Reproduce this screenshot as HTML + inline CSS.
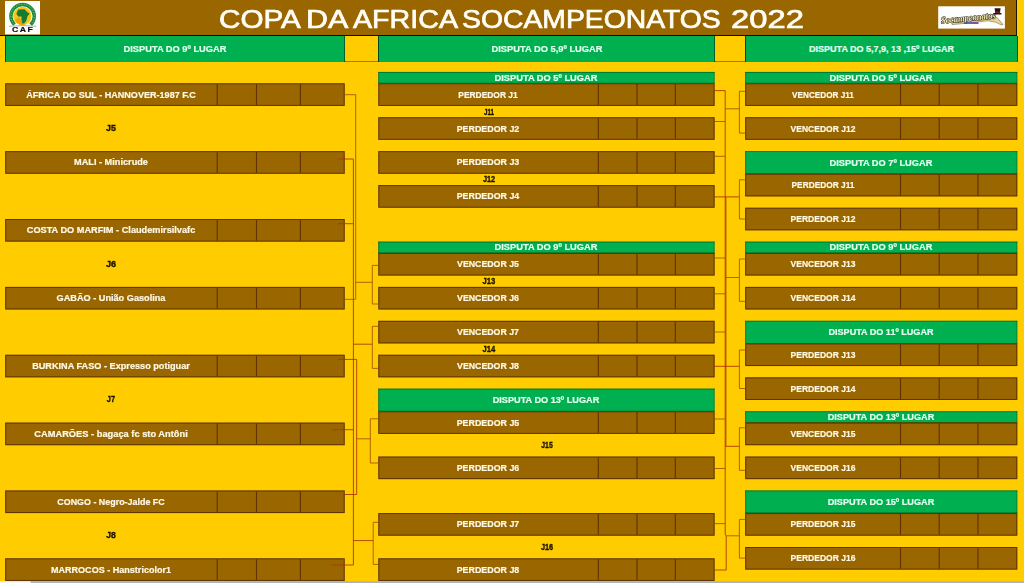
<!DOCTYPE html>
<html><head><meta charset="utf-8"><title>Copa da Africa</title>
<style>
html,body{margin:0;padding:0;}
body{width:1024px;height:583px;overflow:hidden;background:#FFCC00;position:relative;font-family:"Liberation Sans",sans-serif;}
#hdr{position:absolute;left:0;top:0;width:1017.1px;height:35.8px;background:#996600;border-right:1px solid #1c1400;border-bottom:1.2px solid #0c0c00;box-sizing:border-box}
.ti{position:absolute;top:0;height:35px;line-height:38.6px;color:#fffdf5;font-size:25.2px;white-space:pre;transform-origin:0 50%;-webkit-text-stroke:0.7px #fffdf5}
.tg{position:absolute;top:35.8px;height:26.3px;background:#00B050;box-sizing:border-box;border-left:1px solid rgba(0,0,0,.6);border-right:1px solid rgba(0,0,0,.45)}
.gap{position:absolute;top:35.8px;height:26.6px;box-sizing:border-box;border-bottom:1px solid rgba(120,50,0,.55)}
.t{position:absolute;background:#996600;box-sizing:border-box;border:1px solid rgba(50,15,0,.42);}
.t i{position:absolute;top:0;bottom:0;width:1px;background:rgba(50,15,0,.55)}
.g{position:absolute;background:#00B050;box-sizing:border-box;border-top:1px solid rgba(0,40,0,.5);border-bottom:1px solid rgba(0,40,0,.6)}
.x{position:absolute;width:300px;height:12px;line-height:12px;text-align:center;font-weight:bold;font-size:9px;white-space:pre;transform-origin:50% 50%}
.w{color:#fff9e6;-webkit-text-stroke:0.2px #fff9e6}
.gw{color:#e4fff0;-webkit-text-stroke:0.2px #e4fff0}
.k{color:#1a1200;-webkit-text-stroke:0.35px #1a1200}
.cn{position:absolute;left:0;top:0}
#bot{position:absolute;left:0;top:581.5px;width:1024px;height:2px;background:#a8a8a8}
#bot b{position:absolute;left:0;top:0;width:30px;height:2px;background:#f4f4f4}
</style></head><body>
<div id="hdr"></div>
<svg style="position:absolute;left:0;top:0" width="1024" height="36" viewBox="0 0 1024 36">
<defs><filter id="bl" x="-10%" y="-10%" width="120%" height="120%"><feGaussianBlur stdDeviation="0.35"/></filter></defs>
<g filter="url(#bl)">
<rect x="5" y="1" width="35" height="33.4" fill="#fdfdfb"/>
<path d="M13.2,25.8 A13.4,13.4 0 1 1 32,25.8 L29.4,23.6 A10,10 0 1 0 15.8,23.6 Z" fill="#1f8a3c"/>
<path d="M14.3,24.2 A11.7,11.7 0 1 1 30.9,24.2" fill="none" stroke="#9fd6a0" stroke-width="1" stroke-dasharray="0.9 1.7"/>
<circle cx="22.4" cy="16" r="9.2" fill="#f6c514"/>
<path d="M15,20 A9.1,9.1 0 0 0 24,25 L19,17 Z" fill="#f0a010"/>
<path d="M18.2,9.6 L24.5,9.2 L27.6,12.6 L29.6,13.6 L27.4,16.6 L26.4,20.4 L24.2,23.6 L22.4,23.6 L21.4,19.2 L21.6,16.6 L18.2,16.4 L16.4,13.8 Z" fill="#147a33"/>
<path d="M9,26.3 Q22.6,24.8 36.4,26.3" stroke="#555560" stroke-width="0.45" fill="none"/>
<text transform="translate(23.2 32) scale(1.32 1)" font-family="Liberation Sans, sans-serif" font-weight="bold" font-size="6.6" letter-spacing="1.1" text-anchor="middle" fill="#101018" stroke="#101018" stroke-width="0.15">CAF</text>
</g>
<g filter="url(#bl)">
<rect x="938.2" y="6.3" width="66.7" height="22.3" fill="#fefefe"/>
<path d="M952,22.6 Q975,21.4 990,17.6 L996,16.6 L1003,24.4 L1001.6,25 Q996,21.4 988,20.8 Q970,23 952,24.6 Z" fill="#e6d68e" stroke="#5a5030" stroke-width="0.5"/>
<text x="941.2" y="23.6" transform="rotate(-5.5 941.2 23.6)" font-family="Liberation Serif, serif" font-style="italic" font-weight="bold" font-size="9.5" textLength="55" lengthAdjust="spacingAndGlyphs" fill="#efe6b0" stroke="#1a1408" stroke-width="1.0" paint-order="stroke">Socampeonatos</text>
<rect x="964.8" y="22.3" width="13.6" height="1.5" fill="#3a4cc4"/>
<rect x="972.5" y="22.5" width="5.8" height="1.1" fill="#c43448"/>
<path d="M994.6,8.2 L1000.6,8.2 L1000,12.8 L1001.6,13.2 L1001.4,14.6 L993.2,14.6 L993.2,13.2 L995.2,12.8 Z" fill="#2a1018"/>
<rect x="995.2" y="11.6" width="4.8" height="1.2" fill="#7a3020"/>
</g>
</svg>

<span class="ti" style="left:219.12px;transform:scaleX(1.176)">COPA</span>
<span class="ti" style="left:306.07px;transform:scaleX(1.208)">DA</span>
<span class="ti" style="left:352.78px;transform:scaleX(1.137)">AFRICA</span>
<span class="ti" style="left:462.20px;transform:scaleX(1.125)">SOCAMPEONATOS</span>
<span class="ti" style="left:730.92px;transform:scaleX(1.300)">2022</span>
<div class="tg" style="left:4.6px;width:340.1px"></div>
<div class="tg" style="left:378.3px;width:336.3px"></div>
<div class="tg" style="left:745.2px;width:272.4px"></div>
<div class="gap" style="left:344.7px;width:33.6px"></div>
<div class="gap" style="left:714.6px;width:30.6px"></div>
<svg class="cn" width="1024" height="583" viewBox="0 0 1024 583"><rect x="5.20" y="83.30" width="339.50" height="22.62" fill="#996600"/><rect x="5.70" y="83.80" width="338.50" height="21.62" fill="none" stroke="rgb(50,15,0)" stroke-opacity=".58"/><line x1="217.20" y1="84.30" x2="217.20" y2="104.92" stroke="rgb(60,15,0)" stroke-opacity=".6" stroke-width="1.1"/><line x1="256.50" y1="84.30" x2="256.50" y2="104.92" stroke="rgb(60,15,0)" stroke-opacity=".6" stroke-width="1.1"/><line x1="300.40" y1="84.30" x2="300.40" y2="104.92" stroke="rgb(60,15,0)" stroke-opacity=".6" stroke-width="1.1"/>
<rect x="5.20" y="151.16" width="339.50" height="22.62" fill="#996600"/><rect x="5.70" y="151.66" width="338.50" height="21.62" fill="none" stroke="rgb(50,15,0)" stroke-opacity=".58"/><line x1="217.20" y1="152.16" x2="217.20" y2="172.78" stroke="rgb(60,15,0)" stroke-opacity=".6" stroke-width="1.1"/><line x1="256.50" y1="152.16" x2="256.50" y2="172.78" stroke="rgb(60,15,0)" stroke-opacity=".6" stroke-width="1.1"/><line x1="300.40" y1="152.16" x2="300.40" y2="172.78" stroke="rgb(60,15,0)" stroke-opacity=".6" stroke-width="1.1"/>
<rect x="5.20" y="219.02" width="339.50" height="22.62" fill="#996600"/><rect x="5.70" y="219.52" width="338.50" height="21.62" fill="none" stroke="rgb(50,15,0)" stroke-opacity=".58"/><line x1="217.20" y1="220.02" x2="217.20" y2="240.64" stroke="rgb(60,15,0)" stroke-opacity=".6" stroke-width="1.1"/><line x1="256.50" y1="220.02" x2="256.50" y2="240.64" stroke="rgb(60,15,0)" stroke-opacity=".6" stroke-width="1.1"/><line x1="300.40" y1="220.02" x2="300.40" y2="240.64" stroke="rgb(60,15,0)" stroke-opacity=".6" stroke-width="1.1"/>
<rect x="5.20" y="286.88" width="339.50" height="22.62" fill="#996600"/><rect x="5.70" y="287.38" width="338.50" height="21.62" fill="none" stroke="rgb(50,15,0)" stroke-opacity=".58"/><line x1="217.20" y1="287.88" x2="217.20" y2="308.50" stroke="rgb(60,15,0)" stroke-opacity=".6" stroke-width="1.1"/><line x1="256.50" y1="287.88" x2="256.50" y2="308.50" stroke="rgb(60,15,0)" stroke-opacity=".6" stroke-width="1.1"/><line x1="300.40" y1="287.88" x2="300.40" y2="308.50" stroke="rgb(60,15,0)" stroke-opacity=".6" stroke-width="1.1"/>
<rect x="5.20" y="354.74" width="339.50" height="22.62" fill="#996600"/><rect x="5.70" y="355.24" width="338.50" height="21.62" fill="none" stroke="rgb(50,15,0)" stroke-opacity=".58"/><line x1="217.20" y1="355.74" x2="217.20" y2="376.36" stroke="rgb(60,15,0)" stroke-opacity=".6" stroke-width="1.1"/><line x1="256.50" y1="355.74" x2="256.50" y2="376.36" stroke="rgb(60,15,0)" stroke-opacity=".6" stroke-width="1.1"/><line x1="300.40" y1="355.74" x2="300.40" y2="376.36" stroke="rgb(60,15,0)" stroke-opacity=".6" stroke-width="1.1"/>
<rect x="5.20" y="422.60" width="339.50" height="22.62" fill="#996600"/><rect x="5.70" y="423.10" width="338.50" height="21.62" fill="none" stroke="rgb(50,15,0)" stroke-opacity=".58"/><line x1="217.20" y1="423.60" x2="217.20" y2="444.22" stroke="rgb(60,15,0)" stroke-opacity=".6" stroke-width="1.1"/><line x1="256.50" y1="423.60" x2="256.50" y2="444.22" stroke="rgb(60,15,0)" stroke-opacity=".6" stroke-width="1.1"/><line x1="300.40" y1="423.60" x2="300.40" y2="444.22" stroke="rgb(60,15,0)" stroke-opacity=".6" stroke-width="1.1"/>
<rect x="5.20" y="490.46" width="339.50" height="22.62" fill="#996600"/><rect x="5.70" y="490.96" width="338.50" height="21.62" fill="none" stroke="rgb(50,15,0)" stroke-opacity=".58"/><line x1="217.20" y1="491.46" x2="217.20" y2="512.08" stroke="rgb(60,15,0)" stroke-opacity=".6" stroke-width="1.1"/><line x1="256.50" y1="491.46" x2="256.50" y2="512.08" stroke="rgb(60,15,0)" stroke-opacity=".6" stroke-width="1.1"/><line x1="300.40" y1="491.46" x2="300.40" y2="512.08" stroke="rgb(60,15,0)" stroke-opacity=".6" stroke-width="1.1"/>
<rect x="5.20" y="558.32" width="339.50" height="22.62" fill="#996600"/><rect x="5.70" y="558.82" width="338.50" height="21.62" fill="none" stroke="rgb(50,15,0)" stroke-opacity=".58"/><line x1="217.20" y1="559.32" x2="217.20" y2="579.94" stroke="rgb(60,15,0)" stroke-opacity=".6" stroke-width="1.1"/><line x1="256.50" y1="559.32" x2="256.50" y2="579.94" stroke="rgb(60,15,0)" stroke-opacity=".6" stroke-width="1.1"/><line x1="300.40" y1="559.32" x2="300.40" y2="579.94" stroke="rgb(60,15,0)" stroke-opacity=".6" stroke-width="1.1"/>
<rect x="378.30" y="71.99" width="336.30" height="11.31" fill="#00B050"/><line x1="378.30" y1="72.39" x2="714.60" y2="72.39" stroke="rgb(0,50,0)" stroke-opacity=".5" stroke-width=".9"/><line x1="378.30" y1="83.30" x2="714.60" y2="83.30" stroke="rgb(0,50,0)" stroke-opacity=".65" stroke-width="1.1"/><line x1="378.70" y1="71.99" x2="378.70" y2="83.30" stroke="rgb(0,40,0)" stroke-opacity=".45" stroke-width=".9"/><line x1="714.20" y1="71.99" x2="714.20" y2="83.30" stroke="rgb(0,40,0)" stroke-opacity=".35" stroke-width=".9"/>
<rect x="378.30" y="83.30" width="336.30" height="22.62" fill="#996600"/><rect x="378.80" y="83.80" width="335.30" height="21.62" fill="none" stroke="rgb(50,15,0)" stroke-opacity=".58"/><line x1="598.30" y1="84.30" x2="598.30" y2="104.92" stroke="rgb(60,15,0)" stroke-opacity=".6" stroke-width="1.1"/><line x1="637.00" y1="84.30" x2="637.00" y2="104.92" stroke="rgb(60,15,0)" stroke-opacity=".6" stroke-width="1.1"/><line x1="675.30" y1="84.30" x2="675.30" y2="104.92" stroke="rgb(60,15,0)" stroke-opacity=".6" stroke-width="1.1"/>
<rect x="378.30" y="117.23" width="336.30" height="22.62" fill="#996600"/><rect x="378.80" y="117.73" width="335.30" height="21.62" fill="none" stroke="rgb(50,15,0)" stroke-opacity=".58"/><line x1="598.30" y1="118.23" x2="598.30" y2="138.85" stroke="rgb(60,15,0)" stroke-opacity=".6" stroke-width="1.1"/><line x1="637.00" y1="118.23" x2="637.00" y2="138.85" stroke="rgb(60,15,0)" stroke-opacity=".6" stroke-width="1.1"/><line x1="675.30" y1="118.23" x2="675.30" y2="138.85" stroke="rgb(60,15,0)" stroke-opacity=".6" stroke-width="1.1"/>
<rect x="378.30" y="151.16" width="336.30" height="22.62" fill="#996600"/><rect x="378.80" y="151.66" width="335.30" height="21.62" fill="none" stroke="rgb(50,15,0)" stroke-opacity=".58"/><line x1="598.30" y1="152.16" x2="598.30" y2="172.78" stroke="rgb(60,15,0)" stroke-opacity=".6" stroke-width="1.1"/><line x1="637.00" y1="152.16" x2="637.00" y2="172.78" stroke="rgb(60,15,0)" stroke-opacity=".6" stroke-width="1.1"/><line x1="675.30" y1="152.16" x2="675.30" y2="172.78" stroke="rgb(60,15,0)" stroke-opacity=".6" stroke-width="1.1"/>
<rect x="378.30" y="185.09" width="336.30" height="22.62" fill="#996600"/><rect x="378.80" y="185.59" width="335.30" height="21.62" fill="none" stroke="rgb(50,15,0)" stroke-opacity=".58"/><line x1="598.30" y1="186.09" x2="598.30" y2="206.71" stroke="rgb(60,15,0)" stroke-opacity=".6" stroke-width="1.1"/><line x1="637.00" y1="186.09" x2="637.00" y2="206.71" stroke="rgb(60,15,0)" stroke-opacity=".6" stroke-width="1.1"/><line x1="675.30" y1="186.09" x2="675.30" y2="206.71" stroke="rgb(60,15,0)" stroke-opacity=".6" stroke-width="1.1"/>
<rect x="378.30" y="241.64" width="336.30" height="11.31" fill="#00B050"/><line x1="378.30" y1="242.04" x2="714.60" y2="242.04" stroke="rgb(0,50,0)" stroke-opacity=".5" stroke-width=".9"/><line x1="378.30" y1="252.95" x2="714.60" y2="252.95" stroke="rgb(0,50,0)" stroke-opacity=".65" stroke-width="1.1"/><line x1="378.70" y1="241.64" x2="378.70" y2="252.95" stroke="rgb(0,40,0)" stroke-opacity=".45" stroke-width=".9"/><line x1="714.20" y1="241.64" x2="714.20" y2="252.95" stroke="rgb(0,40,0)" stroke-opacity=".35" stroke-width=".9"/>
<rect x="378.30" y="252.95" width="336.30" height="22.62" fill="#996600"/><rect x="378.80" y="253.45" width="335.30" height="21.62" fill="none" stroke="rgb(50,15,0)" stroke-opacity=".58"/><line x1="598.30" y1="253.95" x2="598.30" y2="274.57" stroke="rgb(60,15,0)" stroke-opacity=".6" stroke-width="1.1"/><line x1="637.00" y1="253.95" x2="637.00" y2="274.57" stroke="rgb(60,15,0)" stroke-opacity=".6" stroke-width="1.1"/><line x1="675.30" y1="253.95" x2="675.30" y2="274.57" stroke="rgb(60,15,0)" stroke-opacity=".6" stroke-width="1.1"/>
<rect x="378.30" y="286.88" width="336.30" height="22.62" fill="#996600"/><rect x="378.80" y="287.38" width="335.30" height="21.62" fill="none" stroke="rgb(50,15,0)" stroke-opacity=".58"/><line x1="598.30" y1="287.88" x2="598.30" y2="308.50" stroke="rgb(60,15,0)" stroke-opacity=".6" stroke-width="1.1"/><line x1="637.00" y1="287.88" x2="637.00" y2="308.50" stroke="rgb(60,15,0)" stroke-opacity=".6" stroke-width="1.1"/><line x1="675.30" y1="287.88" x2="675.30" y2="308.50" stroke="rgb(60,15,0)" stroke-opacity=".6" stroke-width="1.1"/>
<rect x="378.30" y="320.81" width="336.30" height="22.62" fill="#996600"/><rect x="378.80" y="321.31" width="335.30" height="21.62" fill="none" stroke="rgb(50,15,0)" stroke-opacity=".58"/><line x1="598.30" y1="321.81" x2="598.30" y2="342.43" stroke="rgb(60,15,0)" stroke-opacity=".6" stroke-width="1.1"/><line x1="637.00" y1="321.81" x2="637.00" y2="342.43" stroke="rgb(60,15,0)" stroke-opacity=".6" stroke-width="1.1"/><line x1="675.30" y1="321.81" x2="675.30" y2="342.43" stroke="rgb(60,15,0)" stroke-opacity=".6" stroke-width="1.1"/>
<rect x="378.30" y="354.74" width="336.30" height="22.62" fill="#996600"/><rect x="378.80" y="355.24" width="335.30" height="21.62" fill="none" stroke="rgb(50,15,0)" stroke-opacity=".58"/><line x1="598.30" y1="355.74" x2="598.30" y2="376.36" stroke="rgb(60,15,0)" stroke-opacity=".6" stroke-width="1.1"/><line x1="637.00" y1="355.74" x2="637.00" y2="376.36" stroke="rgb(60,15,0)" stroke-opacity=".6" stroke-width="1.1"/><line x1="675.30" y1="355.74" x2="675.30" y2="376.36" stroke="rgb(60,15,0)" stroke-opacity=".6" stroke-width="1.1"/>
<rect x="378.30" y="388.67" width="336.30" height="22.62" fill="#00B050"/><line x1="378.30" y1="389.07" x2="714.60" y2="389.07" stroke="rgb(0,50,0)" stroke-opacity=".5" stroke-width=".9"/><line x1="378.30" y1="411.29" x2="714.60" y2="411.29" stroke="rgb(0,50,0)" stroke-opacity=".65" stroke-width="1.1"/><line x1="378.70" y1="388.67" x2="378.70" y2="411.29" stroke="rgb(0,40,0)" stroke-opacity=".45" stroke-width=".9"/><line x1="714.20" y1="388.67" x2="714.20" y2="411.29" stroke="rgb(0,40,0)" stroke-opacity=".35" stroke-width=".9"/>
<rect x="378.30" y="411.29" width="336.30" height="22.62" fill="#996600"/><rect x="378.80" y="411.79" width="335.30" height="21.62" fill="none" stroke="rgb(50,15,0)" stroke-opacity=".58"/><line x1="598.30" y1="412.29" x2="598.30" y2="432.91" stroke="rgb(60,15,0)" stroke-opacity=".6" stroke-width="1.1"/><line x1="637.00" y1="412.29" x2="637.00" y2="432.91" stroke="rgb(60,15,0)" stroke-opacity=".6" stroke-width="1.1"/><line x1="675.30" y1="412.29" x2="675.30" y2="432.91" stroke="rgb(60,15,0)" stroke-opacity=".6" stroke-width="1.1"/>
<rect x="378.30" y="456.53" width="336.30" height="22.62" fill="#996600"/><rect x="378.80" y="457.03" width="335.30" height="21.62" fill="none" stroke="rgb(50,15,0)" stroke-opacity=".58"/><line x1="598.30" y1="457.53" x2="598.30" y2="478.15" stroke="rgb(60,15,0)" stroke-opacity=".6" stroke-width="1.1"/><line x1="637.00" y1="457.53" x2="637.00" y2="478.15" stroke="rgb(60,15,0)" stroke-opacity=".6" stroke-width="1.1"/><line x1="675.30" y1="457.53" x2="675.30" y2="478.15" stroke="rgb(60,15,0)" stroke-opacity=".6" stroke-width="1.1"/>
<rect x="378.30" y="513.08" width="336.30" height="22.62" fill="#996600"/><rect x="378.80" y="513.58" width="335.30" height="21.62" fill="none" stroke="rgb(50,15,0)" stroke-opacity=".58"/><line x1="598.30" y1="514.08" x2="598.30" y2="534.70" stroke="rgb(60,15,0)" stroke-opacity=".6" stroke-width="1.1"/><line x1="637.00" y1="514.08" x2="637.00" y2="534.70" stroke="rgb(60,15,0)" stroke-opacity=".6" stroke-width="1.1"/><line x1="675.30" y1="514.08" x2="675.30" y2="534.70" stroke="rgb(60,15,0)" stroke-opacity=".6" stroke-width="1.1"/>
<rect x="378.30" y="558.32" width="336.30" height="22.62" fill="#996600"/><rect x="378.80" y="558.82" width="335.30" height="21.62" fill="none" stroke="rgb(50,15,0)" stroke-opacity=".58"/><line x1="598.30" y1="559.32" x2="598.30" y2="579.94" stroke="rgb(60,15,0)" stroke-opacity=".6" stroke-width="1.1"/><line x1="637.00" y1="559.32" x2="637.00" y2="579.94" stroke="rgb(60,15,0)" stroke-opacity=".6" stroke-width="1.1"/><line x1="675.30" y1="559.32" x2="675.30" y2="579.94" stroke="rgb(60,15,0)" stroke-opacity=".6" stroke-width="1.1"/>
<rect x="745.20" y="71.99" width="272.10" height="11.31" fill="#00B050"/><line x1="745.20" y1="72.39" x2="1017.30" y2="72.39" stroke="rgb(0,50,0)" stroke-opacity=".5" stroke-width=".9"/><line x1="745.20" y1="83.30" x2="1017.30" y2="83.30" stroke="rgb(0,50,0)" stroke-opacity=".65" stroke-width="1.1"/><line x1="745.60" y1="71.99" x2="745.60" y2="83.30" stroke="rgb(0,40,0)" stroke-opacity=".45" stroke-width=".9"/><line x1="1016.90" y1="71.99" x2="1016.90" y2="83.30" stroke="rgb(0,40,0)" stroke-opacity=".35" stroke-width=".9"/>
<rect x="745.20" y="83.30" width="272.10" height="22.62" fill="#996600"/><rect x="745.70" y="83.80" width="271.10" height="21.62" fill="none" stroke="rgb(50,15,0)" stroke-opacity=".58"/><line x1="900.50" y1="84.30" x2="900.50" y2="104.92" stroke="rgb(60,15,0)" stroke-opacity=".6" stroke-width="1.1"/><line x1="939.20" y1="84.30" x2="939.20" y2="104.92" stroke="rgb(60,15,0)" stroke-opacity=".6" stroke-width="1.1"/><line x1="978.00" y1="84.30" x2="978.00" y2="104.92" stroke="rgb(60,15,0)" stroke-opacity=".6" stroke-width="1.1"/>
<rect x="745.20" y="117.23" width="272.10" height="22.62" fill="#996600"/><rect x="745.70" y="117.73" width="271.10" height="21.62" fill="none" stroke="rgb(50,15,0)" stroke-opacity=".58"/><line x1="900.50" y1="118.23" x2="900.50" y2="138.85" stroke="rgb(60,15,0)" stroke-opacity=".6" stroke-width="1.1"/><line x1="939.20" y1="118.23" x2="939.20" y2="138.85" stroke="rgb(60,15,0)" stroke-opacity=".6" stroke-width="1.1"/><line x1="978.00" y1="118.23" x2="978.00" y2="138.85" stroke="rgb(60,15,0)" stroke-opacity=".6" stroke-width="1.1"/>
<rect x="745.20" y="151.16" width="272.10" height="22.62" fill="#00B050"/><line x1="745.20" y1="151.56" x2="1017.30" y2="151.56" stroke="rgb(0,50,0)" stroke-opacity=".5" stroke-width=".9"/><line x1="745.20" y1="173.78" x2="1017.30" y2="173.78" stroke="rgb(0,50,0)" stroke-opacity=".65" stroke-width="1.1"/><line x1="745.60" y1="151.16" x2="745.60" y2="173.78" stroke="rgb(0,40,0)" stroke-opacity=".45" stroke-width=".9"/><line x1="1016.90" y1="151.16" x2="1016.90" y2="173.78" stroke="rgb(0,40,0)" stroke-opacity=".35" stroke-width=".9"/>
<rect x="745.20" y="173.78" width="272.10" height="22.62" fill="#996600"/><rect x="745.70" y="174.28" width="271.10" height="21.62" fill="none" stroke="rgb(50,15,0)" stroke-opacity=".58"/><line x1="900.50" y1="174.78" x2="900.50" y2="195.40" stroke="rgb(60,15,0)" stroke-opacity=".6" stroke-width="1.1"/><line x1="939.20" y1="174.78" x2="939.20" y2="195.40" stroke="rgb(60,15,0)" stroke-opacity=".6" stroke-width="1.1"/><line x1="978.00" y1="174.78" x2="978.00" y2="195.40" stroke="rgb(60,15,0)" stroke-opacity=".6" stroke-width="1.1"/>
<rect x="745.20" y="207.71" width="272.10" height="22.62" fill="#996600"/><rect x="745.70" y="208.21" width="271.10" height="21.62" fill="none" stroke="rgb(50,15,0)" stroke-opacity=".58"/><line x1="900.50" y1="208.71" x2="900.50" y2="229.33" stroke="rgb(60,15,0)" stroke-opacity=".6" stroke-width="1.1"/><line x1="939.20" y1="208.71" x2="939.20" y2="229.33" stroke="rgb(60,15,0)" stroke-opacity=".6" stroke-width="1.1"/><line x1="978.00" y1="208.71" x2="978.00" y2="229.33" stroke="rgb(60,15,0)" stroke-opacity=".6" stroke-width="1.1"/>
<rect x="745.20" y="241.64" width="272.10" height="11.31" fill="#00B050"/><line x1="745.20" y1="242.04" x2="1017.30" y2="242.04" stroke="rgb(0,50,0)" stroke-opacity=".5" stroke-width=".9"/><line x1="745.20" y1="252.95" x2="1017.30" y2="252.95" stroke="rgb(0,50,0)" stroke-opacity=".65" stroke-width="1.1"/><line x1="745.60" y1="241.64" x2="745.60" y2="252.95" stroke="rgb(0,40,0)" stroke-opacity=".45" stroke-width=".9"/><line x1="1016.90" y1="241.64" x2="1016.90" y2="252.95" stroke="rgb(0,40,0)" stroke-opacity=".35" stroke-width=".9"/>
<rect x="745.20" y="252.95" width="272.10" height="22.62" fill="#996600"/><rect x="745.70" y="253.45" width="271.10" height="21.62" fill="none" stroke="rgb(50,15,0)" stroke-opacity=".58"/><line x1="900.50" y1="253.95" x2="900.50" y2="274.57" stroke="rgb(60,15,0)" stroke-opacity=".6" stroke-width="1.1"/><line x1="939.20" y1="253.95" x2="939.20" y2="274.57" stroke="rgb(60,15,0)" stroke-opacity=".6" stroke-width="1.1"/><line x1="978.00" y1="253.95" x2="978.00" y2="274.57" stroke="rgb(60,15,0)" stroke-opacity=".6" stroke-width="1.1"/>
<rect x="745.20" y="286.88" width="272.10" height="22.62" fill="#996600"/><rect x="745.70" y="287.38" width="271.10" height="21.62" fill="none" stroke="rgb(50,15,0)" stroke-opacity=".58"/><line x1="900.50" y1="287.88" x2="900.50" y2="308.50" stroke="rgb(60,15,0)" stroke-opacity=".6" stroke-width="1.1"/><line x1="939.20" y1="287.88" x2="939.20" y2="308.50" stroke="rgb(60,15,0)" stroke-opacity=".6" stroke-width="1.1"/><line x1="978.00" y1="287.88" x2="978.00" y2="308.50" stroke="rgb(60,15,0)" stroke-opacity=".6" stroke-width="1.1"/>
<rect x="745.20" y="320.81" width="272.10" height="22.62" fill="#00B050"/><line x1="745.20" y1="321.21" x2="1017.30" y2="321.21" stroke="rgb(0,50,0)" stroke-opacity=".5" stroke-width=".9"/><line x1="745.20" y1="343.43" x2="1017.30" y2="343.43" stroke="rgb(0,50,0)" stroke-opacity=".65" stroke-width="1.1"/><line x1="745.60" y1="320.81" x2="745.60" y2="343.43" stroke="rgb(0,40,0)" stroke-opacity=".45" stroke-width=".9"/><line x1="1016.90" y1="320.81" x2="1016.90" y2="343.43" stroke="rgb(0,40,0)" stroke-opacity=".35" stroke-width=".9"/>
<rect x="745.20" y="343.43" width="272.10" height="22.62" fill="#996600"/><rect x="745.70" y="343.93" width="271.10" height="21.62" fill="none" stroke="rgb(50,15,0)" stroke-opacity=".58"/><line x1="900.50" y1="344.43" x2="900.50" y2="365.05" stroke="rgb(60,15,0)" stroke-opacity=".6" stroke-width="1.1"/><line x1="939.20" y1="344.43" x2="939.20" y2="365.05" stroke="rgb(60,15,0)" stroke-opacity=".6" stroke-width="1.1"/><line x1="978.00" y1="344.43" x2="978.00" y2="365.05" stroke="rgb(60,15,0)" stroke-opacity=".6" stroke-width="1.1"/>
<rect x="745.20" y="377.36" width="272.10" height="22.62" fill="#996600"/><rect x="745.70" y="377.86" width="271.10" height="21.62" fill="none" stroke="rgb(50,15,0)" stroke-opacity=".58"/><line x1="900.50" y1="378.36" x2="900.50" y2="398.98" stroke="rgb(60,15,0)" stroke-opacity=".6" stroke-width="1.1"/><line x1="939.20" y1="378.36" x2="939.20" y2="398.98" stroke="rgb(60,15,0)" stroke-opacity=".6" stroke-width="1.1"/><line x1="978.00" y1="378.36" x2="978.00" y2="398.98" stroke="rgb(60,15,0)" stroke-opacity=".6" stroke-width="1.1"/>
<rect x="745.20" y="411.29" width="272.10" height="11.31" fill="#00B050"/><line x1="745.20" y1="411.69" x2="1017.30" y2="411.69" stroke="rgb(0,50,0)" stroke-opacity=".5" stroke-width=".9"/><line x1="745.20" y1="422.60" x2="1017.30" y2="422.60" stroke="rgb(0,50,0)" stroke-opacity=".65" stroke-width="1.1"/><line x1="745.60" y1="411.29" x2="745.60" y2="422.60" stroke="rgb(0,40,0)" stroke-opacity=".45" stroke-width=".9"/><line x1="1016.90" y1="411.29" x2="1016.90" y2="422.60" stroke="rgb(0,40,0)" stroke-opacity=".35" stroke-width=".9"/>
<rect x="745.20" y="422.60" width="272.10" height="22.62" fill="#996600"/><rect x="745.70" y="423.10" width="271.10" height="21.62" fill="none" stroke="rgb(50,15,0)" stroke-opacity=".58"/><line x1="900.50" y1="423.60" x2="900.50" y2="444.22" stroke="rgb(60,15,0)" stroke-opacity=".6" stroke-width="1.1"/><line x1="939.20" y1="423.60" x2="939.20" y2="444.22" stroke="rgb(60,15,0)" stroke-opacity=".6" stroke-width="1.1"/><line x1="978.00" y1="423.60" x2="978.00" y2="444.22" stroke="rgb(60,15,0)" stroke-opacity=".6" stroke-width="1.1"/>
<rect x="745.20" y="456.53" width="272.10" height="22.62" fill="#996600"/><rect x="745.70" y="457.03" width="271.10" height="21.62" fill="none" stroke="rgb(50,15,0)" stroke-opacity=".58"/><line x1="900.50" y1="457.53" x2="900.50" y2="478.15" stroke="rgb(60,15,0)" stroke-opacity=".6" stroke-width="1.1"/><line x1="939.20" y1="457.53" x2="939.20" y2="478.15" stroke="rgb(60,15,0)" stroke-opacity=".6" stroke-width="1.1"/><line x1="978.00" y1="457.53" x2="978.00" y2="478.15" stroke="rgb(60,15,0)" stroke-opacity=".6" stroke-width="1.1"/>
<rect x="745.20" y="490.46" width="272.10" height="22.62" fill="#00B050"/><line x1="745.20" y1="490.86" x2="1017.30" y2="490.86" stroke="rgb(0,50,0)" stroke-opacity=".5" stroke-width=".9"/><line x1="745.20" y1="513.08" x2="1017.30" y2="513.08" stroke="rgb(0,50,0)" stroke-opacity=".65" stroke-width="1.1"/><line x1="745.60" y1="490.46" x2="745.60" y2="513.08" stroke="rgb(0,40,0)" stroke-opacity=".45" stroke-width=".9"/><line x1="1016.90" y1="490.46" x2="1016.90" y2="513.08" stroke="rgb(0,40,0)" stroke-opacity=".35" stroke-width=".9"/>
<rect x="745.20" y="513.08" width="272.10" height="22.62" fill="#996600"/><rect x="745.70" y="513.58" width="271.10" height="21.62" fill="none" stroke="rgb(50,15,0)" stroke-opacity=".58"/><line x1="900.50" y1="514.08" x2="900.50" y2="534.70" stroke="rgb(60,15,0)" stroke-opacity=".6" stroke-width="1.1"/><line x1="939.20" y1="514.08" x2="939.20" y2="534.70" stroke="rgb(60,15,0)" stroke-opacity=".6" stroke-width="1.1"/><line x1="978.00" y1="514.08" x2="978.00" y2="534.70" stroke="rgb(60,15,0)" stroke-opacity=".6" stroke-width="1.1"/>
<rect x="745.20" y="547.01" width="272.10" height="22.62" fill="#996600"/><rect x="745.70" y="547.51" width="271.10" height="21.62" fill="none" stroke="rgb(50,15,0)" stroke-opacity=".58"/><line x1="900.50" y1="548.01" x2="900.50" y2="568.63" stroke="rgb(60,15,0)" stroke-opacity=".6" stroke-width="1.1"/><line x1="939.20" y1="548.01" x2="939.20" y2="568.63" stroke="rgb(60,15,0)" stroke-opacity=".6" stroke-width="1.1"/><line x1="978.00" y1="548.01" x2="978.00" y2="568.63" stroke="rgb(60,15,0)" stroke-opacity=".6" stroke-width="1.1"/></svg>
<span class="x w" style="left:-38.80px;top:88.61px;transform:scaleX(1.007)">ÁFRICA DO SUL - HANNOVER-1987 F.C</span>
<span class="x w" style="left:-38.80px;top:156.47px;transform:scaleX(1.020)">MALI - Minicrude</span>
<span class="x w" style="left:-38.80px;top:224.33px;transform:scaleX(1.021)">COSTA DO MARFIM - Claudemirsilvafc</span>
<span class="x w" style="left:-38.80px;top:292.19px;transform:scaleX(1.018)">GABÃO - União Gasolina</span>
<span class="x w" style="left:-38.80px;top:360.05px;transform:scaleX(1.016)">BURKINA FASO - Expresso potiguar</span>
<span class="x w" style="left:-38.80px;top:427.91px;transform:scaleX(1.032)">CAMARÕES - bagaça fc sto Antôni</span>
<span class="x w" style="left:-38.80px;top:495.77px;transform:scaleX(0.990)">CONGO - Negro-Jalde FC</span>
<span class="x w" style="left:-38.80px;top:563.63px;transform:scaleX(1.005)">MARROCOS - Hanstricolor1</span>
<span class="x k" style="left:-38.70px;top:121.84px;transform:scaleX(0.987)">J5</span>
<span class="x k" style="left:-38.70px;top:257.56px;transform:scaleX(1.015)">J6</span>
<span class="x k" style="left:-38.70px;top:393.28px;transform:scaleX(0.823)">J7</span>
<span class="x k" style="left:-38.70px;top:529.00px;transform:scaleX(0.960)">J8</span>
<span class="x gw" style="left:396.45px;top:71.74px;transform:scaleX(1.031)">DISPUTA DO 5º LUGAR</span>
<span class="x w" style="left:338.30px;top:88.61px;transform:scaleX(0.936)">PERDEDOR J1</span>
<span class="x w" style="left:338.30px;top:122.54px;transform:scaleX(0.985)">PERDEDOR J2</span>
<span class="x w" style="left:338.30px;top:156.47px;transform:scaleX(0.985)">PERDEDOR J3</span>
<span class="x w" style="left:338.30px;top:190.40px;transform:scaleX(0.985)">PERDEDOR J4</span>
<span class="x k" style="left:339.00px;top:105.58px;transform:scaleX(0.690)">J11</span>
<span class="x k" style="left:339.00px;top:173.44px;transform:scaleX(0.814)">J12</span>
<span class="x gw" style="left:396.45px;top:241.39px;transform:scaleX(1.031)">DISPUTA DO 9º LUGAR</span>
<span class="x w" style="left:338.30px;top:258.26px;transform:scaleX(0.974)">VENCEDOR J5</span>
<span class="x w" style="left:338.30px;top:292.19px;transform:scaleX(0.974)">VENCEDOR J6</span>
<span class="x w" style="left:338.30px;top:326.12px;transform:scaleX(0.974)">VENCEDOR J7</span>
<span class="x w" style="left:338.30px;top:360.05px;transform:scaleX(0.974)">VENCEDOR J8</span>
<span class="x k" style="left:339.00px;top:275.23px;transform:scaleX(0.849)">J13</span>
<span class="x k" style="left:339.00px;top:343.09px;transform:scaleX(0.849)">J14</span>
<span class="x gw" style="left:396.45px;top:394.08px;transform:scaleX(1.018)">DISPUTA DO 13º LUGAR</span>
<span class="x w" style="left:338.30px;top:416.60px;transform:scaleX(0.985)">PERDEDOR J5</span>
<span class="x w" style="left:338.30px;top:461.84px;transform:scaleX(0.985)">PERDEDOR J6</span>
<span class="x w" style="left:338.30px;top:518.39px;transform:scaleX(0.985)">PERDEDOR J7</span>
<span class="x w" style="left:338.30px;top:563.63px;transform:scaleX(0.985)">PERDEDOR J8</span>
<span class="x k" style="left:397.00px;top:439.02px;transform:scaleX(0.761)">J15</span>
<span class="x k" style="left:397.00px;top:540.81px;transform:scaleX(0.814)">J16</span>
<span class="x gw" style="left:731.25px;top:71.74px;transform:scaleX(1.031)">DISPUTA DO 5º LUGAR</span>
<span class="x w" style="left:672.85px;top:88.61px;transform:scaleX(0.909)">VENCEDOR J11</span>
<span class="x w" style="left:672.85px;top:122.54px;transform:scaleX(0.945)">VENCEDOR J12</span>
<span class="x gw" style="left:731.25px;top:156.57px;transform:scaleX(1.031)">DISPUTA DO 7º LUGAR</span>
<span class="x w" style="left:672.85px;top:179.09px;transform:scaleX(0.924)">PERDEDOR J11</span>
<span class="x w" style="left:672.85px;top:213.02px;transform:scaleX(0.945)">PERDEDOR J12</span>
<span class="x gw" style="left:731.25px;top:241.39px;transform:scaleX(1.031)">DISPUTA DO 9º LUGAR</span>
<span class="x w" style="left:672.85px;top:258.26px;transform:scaleX(0.945)">VENCEDOR J13</span>
<span class="x w" style="left:672.85px;top:292.19px;transform:scaleX(0.945)">VENCEDOR J14</span>
<span class="x gw" style="left:731.25px;top:326.22px;transform:scaleX(1.006)">DISPUTA DO 11º LUGAR</span>
<span class="x w" style="left:672.85px;top:348.74px;transform:scaleX(0.945)">PERDEDOR J13</span>
<span class="x w" style="left:672.85px;top:382.67px;transform:scaleX(0.945)">PERDEDOR J14</span>
<span class="x gw" style="left:731.25px;top:411.05px;transform:scaleX(1.018)">DISPUTA DO 13º LUGAR</span>
<span class="x w" style="left:672.85px;top:427.91px;transform:scaleX(0.945)">VENCEDOR J15</span>
<span class="x w" style="left:672.85px;top:461.84px;transform:scaleX(0.945)">VENCEDOR J16</span>
<span class="x gw" style="left:731.25px;top:495.87px;transform:scaleX(1.018)">DISPUTA DO 15º LUGAR</span>
<span class="x w" style="left:672.85px;top:518.39px;transform:scaleX(0.945)">PERDEDOR J15</span>
<span class="x w" style="left:672.85px;top:552.32px;transform:scaleX(0.945)">PERDEDOR J16</span>
<span class="x gw tg2" style="left:25.00px;top:43.30px;transform:scaleX(1.031)">DISPUTA DO 9º LUGAR</span>
<span class="x gw tg2" style="left:396.75px;top:43.30px;transform:scaleX(1.034)">DISPUTA DO 5,9º LUGAR</span>
<span class="x gw tg2" style="left:731.50px;top:43.30px;transform:scaleX(1.000)">DISPUTA DO 5,7,9, 13 ,15º LUGAR</span>
<svg class="cn" width="1024" height="583" viewBox="0 0 1024 583"><polyline points="344.7,94.7 355.7,94.7 355.7,299.3 344.7,299.3" fill="none" stroke="#a85a00" stroke-width="1" stroke-opacity="0.9"/>
<polyline points="338.0,159.0 353.4,159.0 353.4,565.0 332.0,565.0" fill="none" stroke="#b03800" stroke-width="1" stroke-opacity="0.9"/>
<polyline points="338.0,223.7 353.4,223.7" fill="none" stroke="#b03800" stroke-width="1" stroke-opacity="0.9"/>
<polyline points="355.7,282.3 372.3,282.3" fill="none" stroke="#a85a00" stroke-width="1" stroke-opacity="0.9"/>
<polyline points="378.3,265.4 372.3,265.4 372.3,304.0 378.3,304.0" fill="none" stroke="#a85a00" stroke-width="1" stroke-opacity="0.9"/>
<polyline points="353.4,344.2 372.3,344.2" fill="none" stroke="#b03800" stroke-width="1" stroke-opacity="0.9"/>
<polyline points="378.3,326.3 372.3,326.3 372.3,368.4 378.3,368.4" fill="none" stroke="#a85a00" stroke-width="1" stroke-opacity="0.9"/>
<polyline points="338.0,359.4 356.7,359.4 356.7,494.5 344.7,494.5" fill="none" stroke="#b03800" stroke-width="1" stroke-opacity="0.9"/>
<polyline points="332.0,429.7 353.4,429.7" fill="none" stroke="#b03800" stroke-width="1" stroke-opacity="0.9"/>
<polyline points="356.7,438.8 370.3,438.8" fill="none" stroke="#a85a00" stroke-width="1" stroke-opacity="0.9"/>
<polyline points="378.3,418.8 370.3,418.8 370.3,463.0 378.3,463.0" fill="none" stroke="#a85a00" stroke-width="1" stroke-opacity="0.9"/>
<polyline points="353.4,540.6 373.2,540.6" fill="none" stroke="#b03800" stroke-width="1" stroke-opacity="0.9"/>
<polyline points="378.3,522.3 373.2,522.3 373.2,564.4 378.3,564.4" fill="none" stroke="#a85a00" stroke-width="1" stroke-opacity="0.9"/>
<polyline points="714.6,90.6 725.2,90.6 725.2,534.0 726.2,536.0 726.2,570.0 714.6,570.0" fill="none" stroke="#b03800" stroke-width="1" stroke-opacity="0.9"/>
<polyline points="725.9,196.9 725.9,446.3" fill="none" stroke="#b03800" stroke-width="1" stroke-opacity="0.9"/>
<polyline points="725.2,108.8 739.4,108.8" fill="none" stroke="#a85a00" stroke-width="1" stroke-opacity="0.9"/>
<polyline points="745.2,91.3 739.4,91.3 739.4,133.1 745.2,133.1" fill="none" stroke="#a85a00" stroke-width="1" stroke-opacity="0.9"/>
<polyline points="714.6,121.5 725.2,121.5" fill="none" stroke="#a85a00" stroke-width="1" stroke-opacity="0.9"/>
<polyline points="714.6,156.3 725.2,156.3" fill="none" stroke="#a85a00" stroke-width="1" stroke-opacity="0.9"/>
<polyline points="714.6,196.9 739.4,196.9" fill="none" stroke="#b03800" stroke-width="1" stroke-opacity="0.9"/>
<polyline points="745.2,179.8 739.4,179.8 739.4,219.0 745.2,219.0" fill="none" stroke="#a85a00" stroke-width="1" stroke-opacity="0.9"/>
<polyline points="714.6,258.0 725.2,258.0" fill="none" stroke="#a85a00" stroke-width="1" stroke-opacity="0.9"/>
<polyline points="725.2,277.5 739.4,277.5" fill="none" stroke="#a85a00" stroke-width="1" stroke-opacity="0.9"/>
<polyline points="745.2,259.0 739.4,259.0 739.4,301.3 745.2,301.3" fill="none" stroke="#a85a00" stroke-width="1" stroke-opacity="0.9"/>
<polyline points="714.6,293.8 725.2,293.8" fill="none" stroke="#a85a00" stroke-width="1" stroke-opacity="0.9"/>
<polyline points="714.6,332.0 725.2,332.0" fill="none" stroke="#a85a00" stroke-width="1" stroke-opacity="0.9"/>
<polyline points="714.6,366.3 739.4,366.3" fill="none" stroke="#b03800" stroke-width="1" stroke-opacity="0.9"/>
<polyline points="745.2,350.0 739.4,350.0 739.4,388.5 745.2,388.5" fill="none" stroke="#a85a00" stroke-width="1" stroke-opacity="0.9"/>
<polyline points="714.6,419.0 725.2,419.0" fill="none" stroke="#a85a00" stroke-width="1" stroke-opacity="0.9"/>
<polyline points="725.2,446.3 739.4,446.3" fill="none" stroke="#b03800" stroke-width="1" stroke-opacity="0.9"/>
<polyline points="745.2,427.8 739.4,427.8 739.4,470.3 745.2,470.3" fill="none" stroke="#a85a00" stroke-width="1" stroke-opacity="0.9"/>
<polyline points="714.6,468.5 725.2,468.5" fill="none" stroke="#a85a00" stroke-width="1" stroke-opacity="0.9"/>
<polyline points="714.6,523.6 725.2,523.6" fill="none" stroke="#a85a00" stroke-width="1" stroke-opacity="0.9"/>
<polyline points="726.2,535.8 739.4,535.8" fill="none" stroke="#a85a00" stroke-width="1" stroke-opacity="0.9"/>
<polyline points="745.2,519.4 739.4,519.4 739.4,558.1 745.2,558.1" fill="none" stroke="#a85a00" stroke-width="1" stroke-opacity="0.9"/>
</svg>
<svg class="cn" width="1024" height="583" viewBox="0 0 1024 583"><rect x="0" y="581.25" width="1024" height="2" fill="#adb3b8"/><rect x="0" y="581.25" width="30.6" height="2" fill="#f6f6f4"/></svg>
</body></html>
